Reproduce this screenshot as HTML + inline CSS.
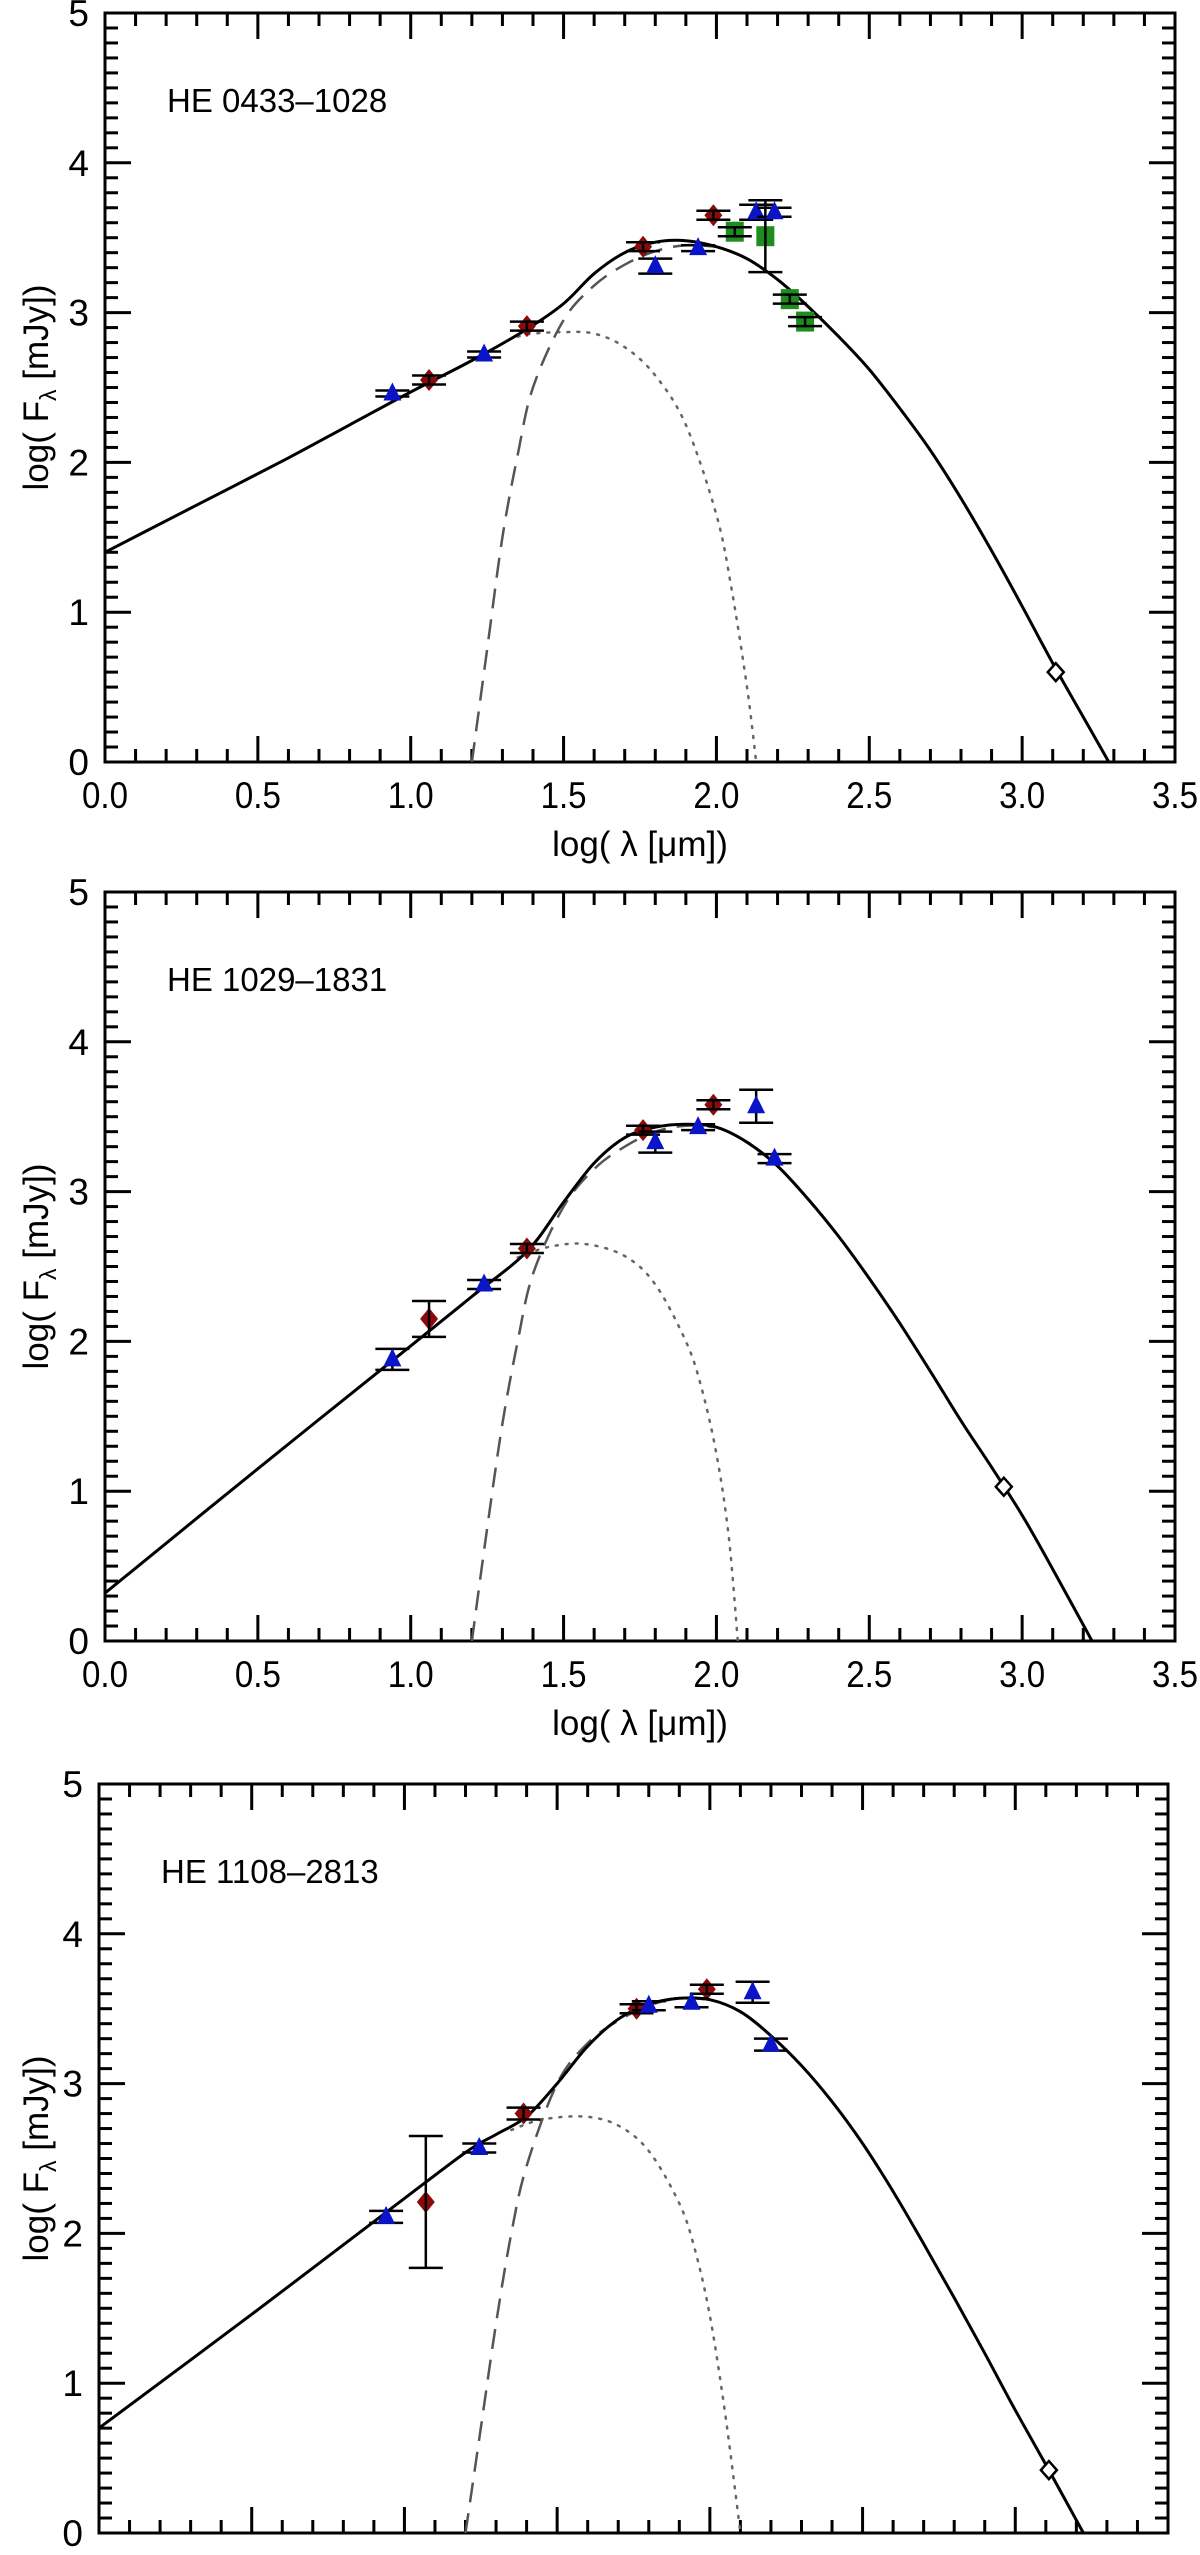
<!DOCTYPE html>
<html><head><meta charset="utf-8"><style>
html,body{margin:0;padding:0;background:#fff;}
svg{display:block;}
text{font-family:"Liberation Sans",sans-serif;fill:#000;}
</style></head><body>
<svg id="fig" width="1200" height="2555" viewBox="0 0 1200 2555" xmlns="http://www.w3.org/2000/svg"></svg>
<script>
// ---------- Panel 1: HE 0433-1028 ----------
const p1Name = "HE 0433\u20131028";
const p1TriX = [0.94,1.24,1.80,1.94,2.13,2.19];
const p1TriY = [2.46,2.72,3.31,3.43,3.67,3.67];
const p1TriE = [0.02,0.02,0.05,0.02,0.05,0.03];
const p1RedX = [1.06,1.38,1.76,1.99];
const p1RedY = [2.55,2.91,3.44,3.65];
const p1RedE = [0.03,0.03,0.03,0.03];
const p1SqX = [2.06,2.16,2.24,2.29];
const p1SqY = [3.54,3.51,3.09,2.94];
const p1SqE = [0.03,0.24,0.03,0.03];
const p1OpenX = [3.11];
const p1OpenY = [0.60];
const p1SolidX = [0,0.2,0.4,0.6,0.8,1.0,1.2,1.38,1.5,1.6,1.7,1.8,1.9,2.0,2.1,2.2,2.3,2.4,2.5,2.6,2.7,2.8,2.9,3.0,3.1,3.2,3.3];
const p1SolidY = [1.40,1.61,1.82,2.03,2.25,2.47,2.68,2.89,3.06,3.26,3.40,3.47,3.48,3.44,3.36,3.22,3.04,2.84,2.62,2.36,2.08,1.76,1.41,1.04,0.66,0.30,-0.06];
const p1DotX = [1.35,1.4,1.5,1.6,1.7,1.8,1.9,2.0,2.05,2.1,2.13];
const p1DotY = [2.84,2.86,2.87,2.86,2.77,2.58,2.25,1.65,1.15,0.5,0];
const p1DashX = [1.2,1.25,1.3,1.35,1.4,1.5,1.6,1.7,1.8,1.9,2.0];
const p1DashY = [0,0.75,1.5,2.05,2.5,2.95,3.18,3.32,3.41,3.45,3.44];

// ---------- Panel 2: HE 1029-1831 ----------
const p2Name = "HE 1029\u20131831";
const p2TriX = [0.94,1.24,1.80,1.94,2.13,2.19];
const p2TriY = [1.88,2.38,3.33,3.43,3.57,3.22];
const p2TriE = [0.07,0.03,0.07,0.02,0.11,0.03];
const p2RedX = [1.06,1.38,1.76,1.99];
const p2RedY = [2.15,2.62,3.41,3.58];
const p2RedE = [0.12,0.03,0.03,0.03];
const p2SqX = [];
const p2SqY = [];
const p2SqE = [];
const p2OpenX = [2.94];
const p2OpenY = [1.03];
const p2SolidX = [0,0.5,1.0,1.2,1.38,1.5,1.6,1.7,1.8,1.9,2.0,2.1,2.2,2.3,2.4,2.5,2.6,2.7,2.8,2.9,3.0,3.1,3.25];
const p2SolidY = [0.32,1.15,1.97,2.30,2.60,2.93,3.19,3.36,3.43,3.45,3.43,3.33,3.17,2.95,2.70,2.42,2.12,1.80,1.47,1.16,0.84,0.48,-0.08];
const p2DotX = [1.35,1.45,1.57,1.7,1.8,1.9,1.95,2.0,2.04,2.07];
const p2DotY = [2.56,2.63,2.65,2.57,2.38,2.0,1.7,1.25,0.7,0];
const p2DashX = [1.2,1.25,1.3,1.35,1.4,1.5,1.6,1.7,1.8,1.9,2.0];
const p2DashY = [0,0.75,1.45,2.0,2.45,2.9,3.15,3.3,3.4,3.44,3.43];

// ---------- Panel 3: HE 1108-2813 ----------
const p3Name = "HE 1108\u20132813";
const p3TriX = [0.94,1.245,1.80,1.94,2.14,2.20];
const p3TriY = [2.11,2.57,3.52,3.54,3.61,3.26];
const p3TriE = [0.04,0.03,0.03,0.03,0.07,0.04];
const p3RedX = [1.07,1.39,1.76,1.99];
const p3RedY = [2.21,2.80,3.50,3.63];
const p3RedE = [0.44,0.04,0.03,0.03];
const p3SqX = [];
const p3SqY = [];
const p3SqE = [];
const p3OpenX = [3.11];
const p3OpenY = [0.42];
const p3SolidX = [0,0.5,0.94,1.2,1.3,1.4,1.5,1.6,1.7,1.8,1.9,2.0,2.1,2.2,2.3,2.4,2.5,2.6,2.7,2.8,2.9,3.0,3.11,3.25];
const p3SolidY = [0.70,1.46,2.14,2.54,2.66,2.78,3.0,3.25,3.43,3.53,3.57,3.56,3.48,3.32,3.12,2.88,2.60,2.28,1.93,1.57,1.20,0.82,0.42,-0.1];
const p3DotX = [1.35,1.45,1.59,1.7,1.8,1.9,1.95,2.0,2.05,2.1];
const p3DotY = [2.69,2.76,2.78,2.72,2.55,2.2,1.9,1.45,0.8,0];
const p3DashX = [1.2,1.25,1.3,1.35,1.4,1.5,1.6,1.7,1.8,1.9,2.0];
const p3DashY = [0,0.7,1.4,2.0,2.45,3.0,3.27,3.42,3.52,3.57,3.56];

const xTickLabels = ["0.0","0.5","1.0","1.5","2.0","2.5","3.0","3.5"];
const yTickLabels = ["0","1","2","3","4","5"];

const NS = "http://www.w3.org/2000/svg";
const svg = document.getElementById("fig");
function mk(tag, attrs, parent){
  const e = document.createElementNS(NS, tag);
  for (const k in attrs) e.setAttribute(k, attrs[k]);
  (parent||svg).appendChild(e);
  return e;
}
function smoothPath(pts){
  let d = "M"+pts[0][0].toFixed(1)+","+pts[0][1].toFixed(1);
  for (let i=0;i<pts.length-1;i++){
    const p0=pts[Math.max(0,i-1)], p1=pts[i], p2=pts[i+1], p3=pts[Math.min(pts.length-1,i+2)];
    const c1=[p1[0]+(p2[0]-p0[0])/6, p1[1]+(p2[1]-p0[1])/6];
    const c2=[p2[0]-(p3[0]-p1[0])/6, p2[1]-(p3[1]-p1[1])/6];
    d += " C"+c1[0].toFixed(1)+","+c1[1].toFixed(1)+" "+c2[0].toFixed(1)+","+c2[1].toFixed(1)+" "+p2[0].toFixed(1)+","+p2[1].toFixed(1);
  }
  return d;
}

function panel(idx, L, T, W, H, P, showXLabels){
  const R = L+W, B = T+H;
  const xs = v => L + v/3.5*W;
  const ys = v => B - v/5*H;
  const g = mk("g", {});
  
  
  const cid = "clip"+idx;
  const cp = mk("clipPath", {id:cid}, g);
  mk("rect", {x:L, y:T, width:W, height:H}, cp);

  const tg = mk("g", {stroke:"#000","stroke-width":3}, g);
  
  
  for (let i=0;i<=35;i++){
    const x = xs(i/10), len = (i%5===0)?26:13;
    mk("line",{x1:x,y1:B,x2:x,y2:B-len},tg);
    mk("line",{x1:x,y1:T,x2:x,y2:T+len},tg);
  }
  for (let i=0;i<=50;i++){
    const y = ys(i/10), len = (i%10===0)?26:13;
    mk("line",{x1:L,y1:y,x2:L+len,y2:y},tg);
    mk("line",{x1:R,y1:y,x2:R-len,y2:y},tg);
  }
  const frame = mk("rect",{x:L,y:T,width:W,height:H,fill:"none",stroke:"#000","stroke-width":3},g);
  
  

  yTickLabels.forEach((t,i)=>{
    const e = mk("text",{x:L-16,y:ys(i)+13,"text-anchor":"end","font-size":37},g);
    e.textContent = t;
    
    
  });
  if (showXLabels){
    xTickLabels.forEach((t,i)=>{
      const e = mk("text",{x:xs(i*0.5),y:B+46,"text-anchor":"middle","font-size":37,textLength:46,lengthAdjust:"spacingAndGlyphs"},g);
      e.textContent = t;
      
      
    });
    const xt = mk("text",{x:xs(1.75),y:B+94,"text-anchor":"middle","font-size":35},g);
    xt.textContent = "log( \u03bb [\u03bcm])";
    
    
  }
  const yt = mk("text",{transform:"translate(48,"+(T+H/2)+") rotate(-90)","text-anchor":"middle","font-size":35},g);
  
  
  const t1 = mk("tspan",{},yt); t1.textContent = "log( F";
  const t2 = mk("tspan",{"font-size":23,dy:8}, yt); t2.textContent = "\u03bb";
  const t3 = mk("tspan",{dy:-8}, yt); t3.textContent = " [mJy])";

  const nm = mk("text",{x:L+62,y:T+99,"font-size":33},g);
  nm.textContent = P.name;
  
  

  const cg = mk("g",{"clip-path":"url(#"+cid+")",fill:"none"},g);
  const dot = mk("path",{d:smoothPath(P.dotX.map((v,i)=>[xs(v),ys(P.dotY[i])])),stroke:"#666","stroke-width":2.5,"stroke-dasharray":"2 8","stroke-linecap":"round"},cg);
  
  
  const dash = mk("path",{d:smoothPath(P.dashX.map((v,i)=>[xs(v),ys(P.dashY[i])])),stroke:"#555","stroke-width":2.5,"stroke-dasharray":"20 11"},cg);
  
  
  const sol = mk("path",{d:smoothPath(P.solX.map((v,i)=>[xs(v),ys(P.solY[i])])),stroke:"#000","stroke-width":3},cg);
  
  

  function errbar(x,y,e){
    const eg = mk("g",{stroke:"#000","stroke-width":2.5},g);
    
    
    const X = xs(x);
    mk("line",{x1:X,y1:ys(y-e),x2:X,y2:ys(y+e)},eg);
    mk("line",{x1:X-17,y1:ys(y-e),x2:X+17,y2:ys(y-e)},eg);
    mk("line",{x1:X-17,y1:ys(y+e),x2:X+17,y2:ys(y+e)},eg);
  }
  P.sqX.forEach((v,i)=>{
    const X=xs(v), Y=ys(P.sqY[i]);
    const s = mk("rect",{x:X-9,y:Y-10,width:18,height:20,fill:"#1e8c1e"},g);
    
    
    errbar(v,P.sqY[i],P.sqE[i]);
  });
  P.redX.forEach((v,i)=>{
    const X=xs(v), Y=ys(P.redY[i]);
    const s = mk("polygon",{points:`${X},${Y-11} ${X+9},${Y} ${X},${Y+11} ${X-9},${Y}`,fill:"#8b0a0a"},g);
    
    
    errbar(v,P.redY[i],P.redE[i]);
  });
  P.triX.forEach((v,i)=>{
    const X=xs(v), Y=ys(P.triY[i]);
    errbar(v,P.triY[i],P.triE[i]);
    const s = mk("polygon",{points:`${X},${Y-11} ${X+9},${Y+7} ${X-9},${Y+7}`,fill:"#0a14c8"},g);
    
    
  });
  P.openX.forEach((v,i)=>{
    const X=xs(v), Y=ys(P.openY[i]);
    const s = mk("polygon",{points:`${X},${Y-9} ${X+8},${Y} ${X},${Y+9} ${X-8},${Y}`,fill:"#fff",stroke:"#000","stroke-width":2.5},g);
    
    
  });
}

panel(1,105,13,1070,749,{name:p1Name,triX:p1TriX,triY:p1TriY,triE:p1TriE,redX:p1RedX,redY:p1RedY,redE:p1RedE,sqX:p1SqX,sqY:p1SqY,sqE:p1SqE,openX:p1OpenX,openY:p1OpenY,solX:p1SolidX,solY:p1SolidY,dotX:p1DotX,dotY:p1DotY,dashX:p1DashX,dashY:p1DashY},true);
panel(2,105,892,1070,749,{name:p2Name,triX:p2TriX,triY:p2TriY,triE:p2TriE,redX:p2RedX,redY:p2RedY,redE:p2RedE,sqX:p2SqX,sqY:p2SqY,sqE:p2SqE,openX:p2OpenX,openY:p2OpenY,solX:p2SolidX,solY:p2SolidY,dotX:p2DotX,dotY:p2DotY,dashX:p2DashX,dashY:p2DashY},true);
panel(3,99,1784,1069,749,{name:p3Name,triX:p3TriX,triY:p3TriY,triE:p3TriE,redX:p3RedX,redY:p3RedY,redE:p3RedE,sqX:p3SqX,sqY:p3SqY,sqE:p3SqE,openX:p3OpenX,openY:p3OpenY,solX:p3SolidX,solY:p3SolidY,dotX:p3DotX,dotY:p3DotY,dashX:p3DashX,dashY:p3DashY},false);
</script>
</body></html>
